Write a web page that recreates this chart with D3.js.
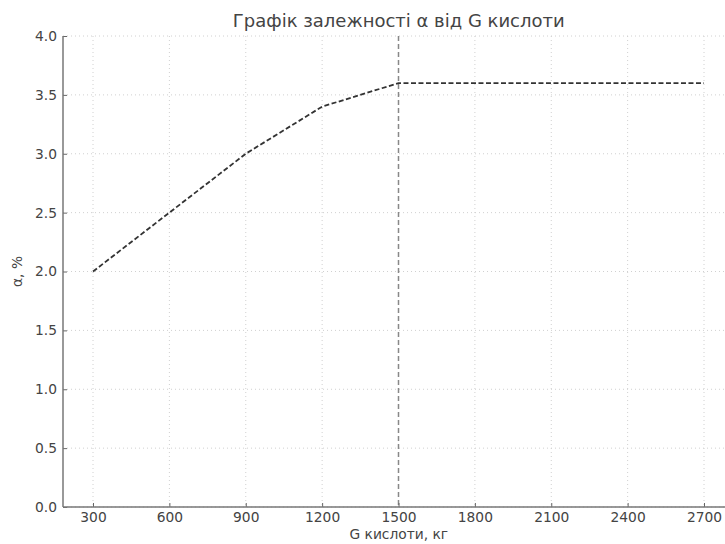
<!DOCTYPE html>
<html><head><meta charset="utf-8">
<script src="https://cdn.jsdelivr.net/npm/d3@7"></script>
<style>body{margin:0;background:#fff}svg{display:block}</style>
</head><body>
<svg id="c" width="725" height="544"></svg>
<script>
const xValues = [300, 600, 900, 1200, 1500, 1800, 2100, 2400, 2700];
const alphaValues = [2.0, 2.5, 3.0, 3.4, 3.6, 3.6, 3.6, 3.6, 3.6];
const xTicks = [300, 600, 900, 1200, 1500, 1800, 2100, 2400, 2700];
const yTicks = [0, 0.5, 1.0, 1.5, 2.0, 2.5, 3.0, 3.5, 4.0];
const markerX = 1500;
const title = "Графік залежності α від G кислоти";
const xLabel = "G кислоти, кг";
const yLabel = "α, %";

(function () {
const svg = d3.select("#c");
const pl = 63, pb = 507, pt = 36;
const x = d3.scaleLinear().domain([300, 2700]).range([93, 704]);
const y = d3.scaleLinear().domain([0, 4]).range([pb, pt]);
const pr = x(2820);
const font = "DejaVu Sans, sans-serif";

// grid
const g = svg.append("g");
g.selectAll("line.gx").data(xTicks).join("line")
  .attr("x1", d => x(d)).attr("x2", d => x(d)).attr("y1", pt).attr("y2", pb)
  .attr("stroke", "#d0d0d0").attr("stroke-width", 1).attr("stroke-dasharray", "1,3");
g.selectAll("line.gy").data(yTicks).join("line")
  .attr("x1", pl).attr("x2", pr).attr("y1", d => y(d)).attr("y2", d => y(d))
  .attr("stroke", "#d0d0d0").attr("stroke-width", 1).attr("stroke-dasharray", "1,3");

// vertical marker
svg.append("line").attr("x1", x(markerX)).attr("x2", x(markerX)).attr("y1", pt).attr("y2", pb)
  .attr("stroke", "#888").attr("stroke-width", 1.5).attr("stroke-dasharray", "5,3");

// data line
const line = d3.line().x((d, i) => x(xValues[i])).y(d => y(d));
svg.append("path").datum(alphaValues).attr("d", line)
  .attr("fill", "none").attr("stroke", "#333").attr("stroke-width", 1.8).attr("stroke-dasharray", "5,2.5");

// axes
const xAxis = d3.axisBottom(x).tickValues(xTicks).tickSize(-4).tickPadding(5).tickFormat(d3.format("d"));
const ax = svg.append("g").attr("transform", `translate(0,${pb})`).call(xAxis);
const yAxis = d3.axisLeft(y).tickValues(yTicks).tickSize(-4).tickPadding(6).tickFormat(d3.format(".1f"));
const ay = svg.append("g").attr("transform", `translate(${pl},0)`).call(yAxis);
[ax, ay].forEach(a => {
  a.select(".domain").remove();
  a.selectAll(".tick line").attr("stroke", "#666");
  a.selectAll(".tick text").attr("fill", "#444").style("font-family", font).style("font-size", "13.8px");
});
svg.append("line").attr("x1", pl).attr("x2", pl).attr("y1", pt).attr("y2", pb).attr("stroke", "#777").attr("stroke-width", 1.5);
svg.append("line").attr("x1", pl).attr("x2", pr).attr("y1", pb).attr("y2", pb).attr("stroke", "#777").attr("stroke-width", 1.5);

// labels
svg.append("text").attr("x", (pl + pr) / 2).attr("y", 27).attr("text-anchor", "middle")
  .style("font-family", font).style("font-size", "18px").attr("fill", "#444").text(title);
svg.append("text").attr("x", (pl + pr) / 2).attr("y", 539).attr("text-anchor", "middle")
  .style("font-family", font).style("font-size", "13.8px").attr("fill", "#444").text(xLabel);
svg.append("text").attr("transform", `translate(22,${(pt + pb) / 2}) rotate(-90)`).attr("text-anchor", "middle")
  .style("font-family", font).style("font-size", "13.8px").attr("fill", "#444").text(yLabel);
})();
</script>
</body></html>
